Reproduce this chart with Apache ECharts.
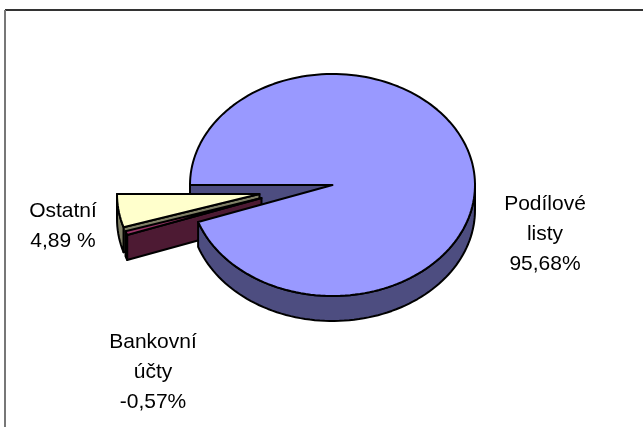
<!DOCTYPE html>
<html><head><meta charset="utf-8">
<style>html,body{margin:0;padding:0;background:#fff}#c{width:643px;height:427px}</style>
<script src="https://cdn.jsdelivr.net/npm/echarts@6/dist/echarts.min.js"></script>
</head><body><div id="c"></div>
<script>
const categories = ['Podílové listy', 'Bankovní účty', 'Ostatní'];
const values = [95.68, -0.57, 4.89];
const labelLines = [['Podílové', 'listy', '95,68%'], ['Bankovní', 'účty', '-0,57%'], ['Ostatní', '4,89 %']];
const topColors = ['#9999FF', '#993366', '#FFFFCC'];
const wallColors = ['#4D4D80', '#4D1A33', '#808066'];
const explode = [[0, 0], [-71, 13], [-73, 9]];
const labelPos = [[545, 204], [153, 342], [63, 211]];
const layerZ = [5, 3, 2];

const C = {x: 332.5, y: 185, rx: 142.5, ry: 111, depth: 25};
const total = values.reduce((a, v) => a + Math.abs(v), 0);
const shares = values.map(v => Math.abs(v) / total * 360);
const pt = (th, dx, dy, d) => {
  const r = th * Math.PI / 180;
  return [C.x + dx - C.rx * Math.cos(r), C.y + dy - C.ry * Math.sin(r) + (d || 0)];
};
function arc(a, b, dx, dy, d) {
  const out = [], n = Math.max(2, Math.ceil((b - a) / 2));
  for (let i = 0; i <= n; i++) out.push(pt(a + (b - a) * i / n, dx, dy, d));
  return out;
}
const LW = 2;
function poly(points, fill, z2) {
  return {type: 'polygon', z2, shape: {points}, style: {fill, stroke: '#000', lineWidth: LW, lineJoin: 'round'}};
}
function renderItem(params, api) {
  const i = params.dataIndex;
  const share = shares[i];
  let start = 0;
  for (let k = 0; k < i; k++) start += shares[k];
  const end = start + share;
  const [dx, dy] = explode[i];
  const z = layerZ[i];
  const apex = [C.x + dx, C.y + dy];
  const apexLow = [apex[0], apex[1] + C.depth];
  const kids = [];
  if (i === 0) {
    kids.push(poly([apex, pt(0, 0, 0), pt(0, 0, 0, C.depth), apexLow], wallColors[i], 1));
  } else {
    kids.push(poly([apex, pt(start, dx, dy), pt(start, dx, dy, C.depth), apexLow], wallColors[i], z));
  }
  const a = Math.max(start, 180), b = end;
  if (b > a) {
    kids.push(poly(arc(a, b, dx, dy, 0).concat(arc(a, b, dx, dy, C.depth).reverse()), wallColors[i], z));
  }
  kids.push(poly([apex].concat(arc(start, end, dx, dy)), topColors[i], z + 1));
  return {type: 'group', children: kids};
}
const labels = [];
labelLines.forEach((lines, i) => lines.forEach((t, j) => {
  labels.push({type: 'text', x: labelPos[i][0], y: labelPos[i][1] + j * 30,
    style: {text: t, fill: '#000', font: '21px "Liberation Sans", Arial, sans-serif', textAlign: 'center', textVerticalAlign: 'middle'}});
}));
const chart = echarts.init(document.getElementById('c'), null, {renderer: 'canvas'});
chart.setOption({
  animation: false,
  backgroundColor: '#fff',
  graphic: [
    {type: 'line', shape: {x1: 5, y1: 10, x2: 643, y2: 10}, style: {stroke: '#333', lineWidth: 2}},
    {type: 'line', shape: {x1: 5, y1: 10, x2: 5, y2: 427}, style: {stroke: '#777', lineWidth: 2}}
  ].concat(labels),
  series: [{
    type: 'custom', coordinateSystem: 'none', silent: true,
    renderItem,
    data: categories.map((name, i) => ({name, value: [values[i]]}))
  }]
});
</script></body></html>
